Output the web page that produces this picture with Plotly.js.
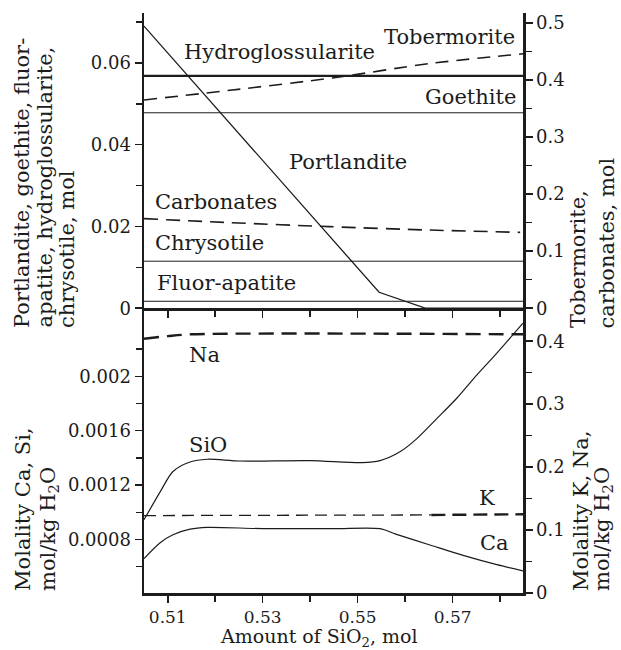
<!DOCTYPE html>
<html>
<head>
<meta charset="utf-8">
<script src="https://cdn.plot.ly/plotly-3.0.1.min.js"></script>
<style>html,body{margin:0;padding:0;background:#fff;}#chart{width:621px;height:650px;}</style>
</head>
<body>
<div id="chart"></div>
<script>
// ---- data ----
// Top panel: solid phases, mol
const xFull = [0.505, 0.5848];
const hydroglossularite = [0.0568, 0.0568];
const goethite = [0.0478, 0.0478];
const chrysotile = [0.0115, 0.0115];
const fluorApatite = [0.0017, 0.0017];
const portlanditeX = [0.505, 0.5545, 0.5642, 0.5848];
const portlandite = [0.0690, 0.0039, 0.0, 0.0];
const tobermoriteX = [0.505, 0.5231, 0.545, 0.5652, 0.5848];
const tobermorite = [0.365, 0.382, 0.404, 0.429, 0.446];
const carbonatesX = [0.505, 0.5231, 0.544, 0.5652, 0.5842];
const carbonates = [0.157, 0.150, 0.143, 0.137, 0.133];
// Bottom panel: molalities
const siX = [0.505, 0.5084, 0.5111, 0.5147, 0.5183, 0.5252, 0.5400, 0.5509, 0.5547, 0.5589, 0.5624, 0.5667, 0.5709, 0.5751, 0.5793, 0.5848];
const siO = [0.000945, 0.00115, 0.00130, 0.00137, 0.00139, 0.001377, 0.00138, 0.001365, 0.00138, 0.001445, 0.00154, 0.00169, 0.00184, 0.00201, 0.00217, 0.00239];
const caX = [0.505, 0.5084, 0.5111, 0.5147, 0.5183, 0.5300, 0.5450, 0.5547, 0.558, 0.5652, 0.5722, 0.5793, 0.5848];
const ca = [0.00066, 0.000777, 0.000835, 0.000876, 0.000889, 0.00088, 0.00088, 0.00088, 0.00084, 0.00076, 0.000683, 0.000615, 0.00057];
const naX = [0.505, 0.510, 0.515, 0.5848];
const na = [0.404, 0.408, 0.411, 0.411];
const kX = [0.505, 0.5655, 0.5848];
const k = [0.123, 0.124, 0.125];
// ticks
const xTickVals = [0.51, 0.53, 0.55, 0.57];
const xTickText = ['0.51', '0.53', '0.55', '0.57'];
const xMinorVals = [0.52, 0.54, 0.56, 0.58];
const topLeftTicks = [0, 0.02, 0.04, 0.06];
const topLeftText = ['0', '0.02', '0.04', '0.06'];
const topRightTicks = [0, 0.1, 0.2, 0.3, 0.4, 0.5];
const topRightText = ['0', '0.1', '0.2', '0.3', '0.4', '0.5'];
const botLeftTicks = [0.0004, 0.0008, 0.0012, 0.0016, 0.002];
const botLeftText = ['0.0004', '0.0008', '0.0012', '0.0016', '0.002'];
const botRightTicks = [0, 0.1, 0.2, 0.3, 0.4];
const botRightText = ['0', '0.1', '0.2', '0.3', '0.4'];

const INK = '#1c1c1c';
const FONT = '"DejaVu Serif", serif';

function line(x, y, xa, ya, name, width, dash, shape) {
  return {x: x, y: y, xaxis: xa, yaxis: ya, name: name, type: 'scatter', mode: 'lines',
          line: {color: INK, width: width, dash: dash || 'solid', shape: shape || 'linear', smoothing: 0.8}, hoverinfo: 'skip'};
}

const traces = [
  line(xFull, hydroglossularite, 'x2', 'y3', 'Hydroglossularite', 2.2),
  line(xFull, goethite, 'x2', 'y3', 'Goethite', 1),
  line(xFull, chrysotile, 'x2', 'y3', 'Chrysotile', 1),
  line(xFull, fluorApatite, 'x2', 'y3', 'Fluor-apatite', 1),
  line(portlanditeX, portlandite, 'x2', 'y3', 'Portlandite', 1.3),
  line(tobermoriteX, tobermorite, 'x2', 'y4', 'Tobermorite', 1.6, '13px,8px', 'spline'),
  line(carbonatesX, carbonates, 'x2', 'y4', 'Carbonates', 1.6, '14px,8px', 'spline'),
  line(siX, siO, 'x', 'y', 'SiO', 1.2, 'solid', 'spline'),
  line(caX, ca, 'x', 'y', 'Ca', 1.2, 'solid', 'spline'),
  line(naX, na, 'x', 'y2', 'Na', 2.4, '15px,8px', 'spline'),
  line(kX.slice(0, 2), k.slice(0, 2), 'x', 'y2', 'K', 1.3, '12px,7px'),
  line(kX.slice(1), k.slice(1), 'x', 'y2', 'K', 2.4, '14px,7px')
];

const tickFont = {family: FONT, size: 18, color: INK};
const axBase = {showgrid: false, zeroline: false, showline: true, linecolor: INK, linewidth: 2.5,
  ticks: 'outside', ticklen: 7, tickwidth: 1.5, tickcolor: INK, tickfont: tickFont, fixedrange: true};
const minorOf = (vals) => ({tickvals: vals, ticklen: 6, tickwidth: 1.5, tickcolor: INK, ticks: 'outside'});

const ann = (text, x, y, xref, yref, xanchor) => ({text: text, x: x, y: y, xref: xref, yref: yref,
  xanchor: xanchor, yanchor: 'middle', showarrow: false, font: {family: FONT, size: 21, color: INK}});

const titleFont = {family: FONT, size: 21, color: INK};
const vline = (text, x, y) => ({text: text, x: x, y: y, xref: 'paper', yref: 'paper', xanchor: 'center', yanchor: 'bottom',
  textangle: -90, showarrow: false, font: titleFont});

const layout = {
  width: 621, height: 650,
  margin: {l: 144, r: 98, t: 13, b: 57},
  paper_bgcolor: '#fff', plot_bgcolor: '#fff',
  showlegend: false,
  font: {family: FONT, color: INK},
  xaxis: Object.assign({}, axBase, {anchor: 'y', domain: [0, 1], range: [0.505, 0.5848],
    tickmode: 'array', tickvals: xTickVals, ticktext: xTickText, minor: minorOf(xMinorVals),
    tickfont: {family: FONT, size: 17, color: INK}}),
  xaxis2: Object.assign({}, axBase, {anchor: 'y3', domain: [0, 1], range: [0.505, 0.5848], matches: 'x',
    tickmode: 'array', tickvals: xTickVals, showticklabels: false, minor: minorOf(xMinorVals)}),
  yaxis: Object.assign({}, axBase, {anchor: 'x', domain: [0, 0.491], range: [0.000407, 0.0025], side: 'left',
    tickmode: 'array', tickvals: botLeftTicks, ticktext: botLeftText,
    minor: minorOf([0.0006, 0.001, 0.0014, 0.0018, 0.0022])}),
  yaxis2: Object.assign({}, axBase, {anchor: 'x', overlaying: 'y', side: 'right', range: [0, 0.4524],
    tickmode: 'array', tickvals: botRightTicks, ticktext: botRightText,
    minor: minorOf([0.05, 0.15, 0.25, 0.35])}),
  yaxis3: Object.assign({}, axBase, {anchor: 'x2', domain: [0.491, 1], range: [0, 0.0722], side: 'left',
    tickmode: 'array', tickvals: topLeftTicks, ticktext: topLeftText,
    minor: minorOf([0.01, 0.03, 0.05, 0.07])}),
  yaxis4: Object.assign({}, axBase, {anchor: 'x2', overlaying: 'y3', side: 'right', range: [0, 0.5175],
    tickmode: 'array', tickvals: topRightTicks, ticktext: topRightText,
    minor: minorOf([0.05, 0.15, 0.25, 0.35, 0.45])}),
  annotations: [
    ann('Hydroglossularite', 0.513, 0.0627, 'x2', 'y3', 'left'),
    ann('Tobermorite', 0.5835, 0.0664, 'x2', 'y3', 'right'),
    ann('Goethite', 0.5837, 0.0517, 'x2', 'y3', 'right'),
    ann('Portlandite', 0.5351, 0.0358, 'x2', 'y3', 'left'),
    ann('Carbonates', 0.5069, 0.0260, 'x2', 'y3', 'left'),
    ann('Chrysotile', 0.5069, 0.0159, 'x2', 'y3', 'left'),
    ann('Fluor-apatite', 0.5073, 0.0061, 'x2', 'y3', 'left'),
    ann('Na', 0.5141, 0.002154, 'x', 'y', 'left'),
    ann('SiO', 0.5141, 0.001494, 'x', 'y', 'left'),
    ann('K', 0.5751, 0.001105, 'x', 'y', 'left'),
    ann('Ca', 0.5753, 0.000774, 'x', 'y', 'left'),
    // axis titles (one annotation per printed line, left-aligned at the panel bottom)
    vline('Portlandite, goethite, fluor-', -0.3219, 0.4534),
    vline('apatite, hydroglossularite,', -0.2612, 0.4534),
    vline('chrysotile, mol', -0.2032, 0.4534),
    vline('Tobermorite,', 1.1451, 0.4534),
    vline('carbonates, mol', 1.2216, 0.4534),
    vline('Molality Ca, Si,', -0.3193, 0.0),
    vline('mol/kg H<sub>2</sub>O', -0.2507, 0.0),
    vline('Molality K, Na,', 1.153, 0.0),
    vline('mol/kg H<sub>2</sub>O', 1.211, 0.0),
    {text: 'Amount of SiO<sub>2</sub>, mol', x: 0.4617, y: -0.0765, xref: 'paper', yref: 'paper',
     xanchor: 'center', yanchor: 'middle', showarrow: false, font: {family: FONT, size: 19, color: INK}}
  ]
};

Plotly.newPlot('chart', traces, layout, {staticPlot: true, displayModeBar: false});
</script>
</body>
</html>
